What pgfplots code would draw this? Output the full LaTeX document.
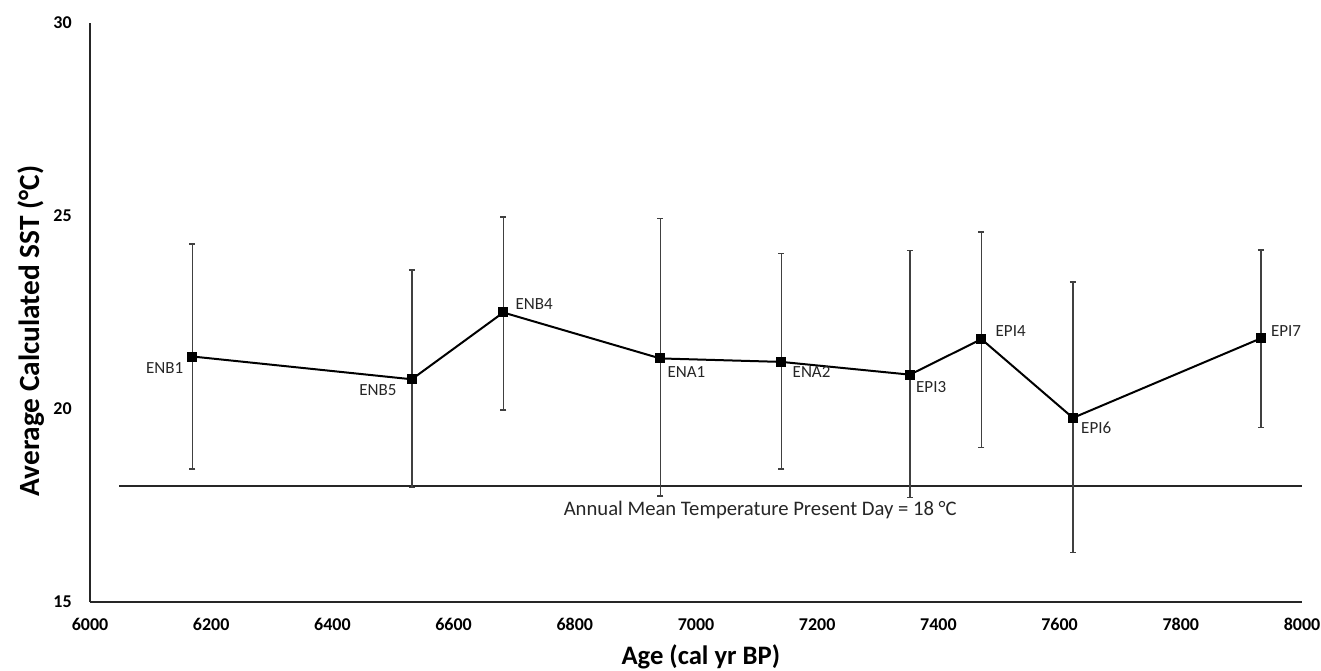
\documentclass[border=0pt]{standalone}
\usepackage{fontspec}
\setmainfont{Carlito}
\usepackage{pgfplots}
\pgfplotsset{compat=1.18}
\begin{document}
\begin{tikzpicture}
\path[use as bounding box] (-67.5pt,-51.75pt) rectangle (923.25pt,451.5pt);
\begin{axis}[
  at={(0pt,0pt)}, anchor=south west,
  scale only axis, width=909pt, height=434.25pt,
  xmin=6000, xmax=8000, ymin=15, ymax=30,
  axis lines=left,
  axis line style={-, line width=1.5pt, black!85},
  x axis line style={-}, y axis line style={-},
  xtick={6000,6200,...,8000}, ytick={15,20,25,30},
  major tick length=0pt,
  /pgf/number format/assume math mode=true,
  /pgf/number format/set thousands separator={},
  tick label style={font=\bfseries\fontsize{13.5}{14}\selectfont},
  yticklabel style={inner sep=0pt, xshift=-13.5pt},
  xticklabel style={inner sep=0pt, yshift=-12pt},
  every axis y label/.style={at={(axis description cs:-0.0487,0.468)}, rotate=90, anchor=center},
  every axis x label/.style={at={(axis description cs:0.504,-0.095)}, anchor=center},
  xlabel={\bfseries\fontsize{20}{22}\selectfont Age (cal yr BP)},
  ylabel={\bfseries\fontsize{22}{24}\selectfont Average Calculated SST (°C)},
  clip=false,
]
\addplot[black!85, line width=1.5pt, no marks] coordinates {(6048,18) (8000,18)};
\addplot[black, line width=1.5pt, mark=square*, mark size=3pt,
  error bars/.cd, y dir=both, y explicit,
  error bar style={line width=1.1pt, black!75},
  error mark options={rotate=90, mark size=2.25pt, line width=1.1pt, black!75}]
  table[x=x, y=y, y error plus=ep, y error minus=em] {
x y ep em
6169 21.36 2.91 2.92
6531 20.77 2.83 2.80
6682 22.50 2.48 2.53
6941 21.31 3.63 3.56
7141 21.22 2.81 2.78
7353 20.89 3.21 3.18
7471 21.81 2.78 2.81
7622 19.77 3.52 3.49
7932 21.83 2.29 2.31
};
\begin{scope}[every node/.style={inner sep=0pt, font=\fontsize{12.75}{14}\selectfont, text=black!85}]
\node[anchor=north east, xshift=-6.75pt, yshift=-4.5pt] at (axis cs:6169,21.36) {ENB1};
\node[anchor=north east, xshift=-11.25pt, yshift=-3.75pt] at (axis cs:6531,20.77) {ENB5};
\node[anchor=south west, xshift=9pt, yshift=2.25pt] at (axis cs:6682,22.50) {ENB4};
\node[anchor=north west, xshift=5.25pt, yshift=-6pt] at (axis cs:6941,21.31) {ENA1};
\node[anchor=north west, xshift=8.25pt, yshift=-3pt] at (axis cs:7141,21.22) {ENA2};
\node[anchor=north west, xshift=4.5pt, yshift=-5.25pt] at (axis cs:7353,20.89) {EPI3};
\node[anchor=west, xshift=10.5pt, yshift=6pt] at (axis cs:7471,21.81) {EPI4};
\node[anchor=north west, xshift=6pt, yshift=-3pt] at (axis cs:7622,19.77) {EPI6};
\node[anchor=west, xshift=7.5pt, yshift=5.25pt] at (axis cs:7932,21.83) {EPI7};
\node[anchor=center, font=\fontsize{15.5}{17}\selectfont] at (axis cs:7106,17.38) {Annual Mean Temperature Present Day = 18 °C};
\end{scope}
\end{axis}
\end{tikzpicture}
\end{document}
